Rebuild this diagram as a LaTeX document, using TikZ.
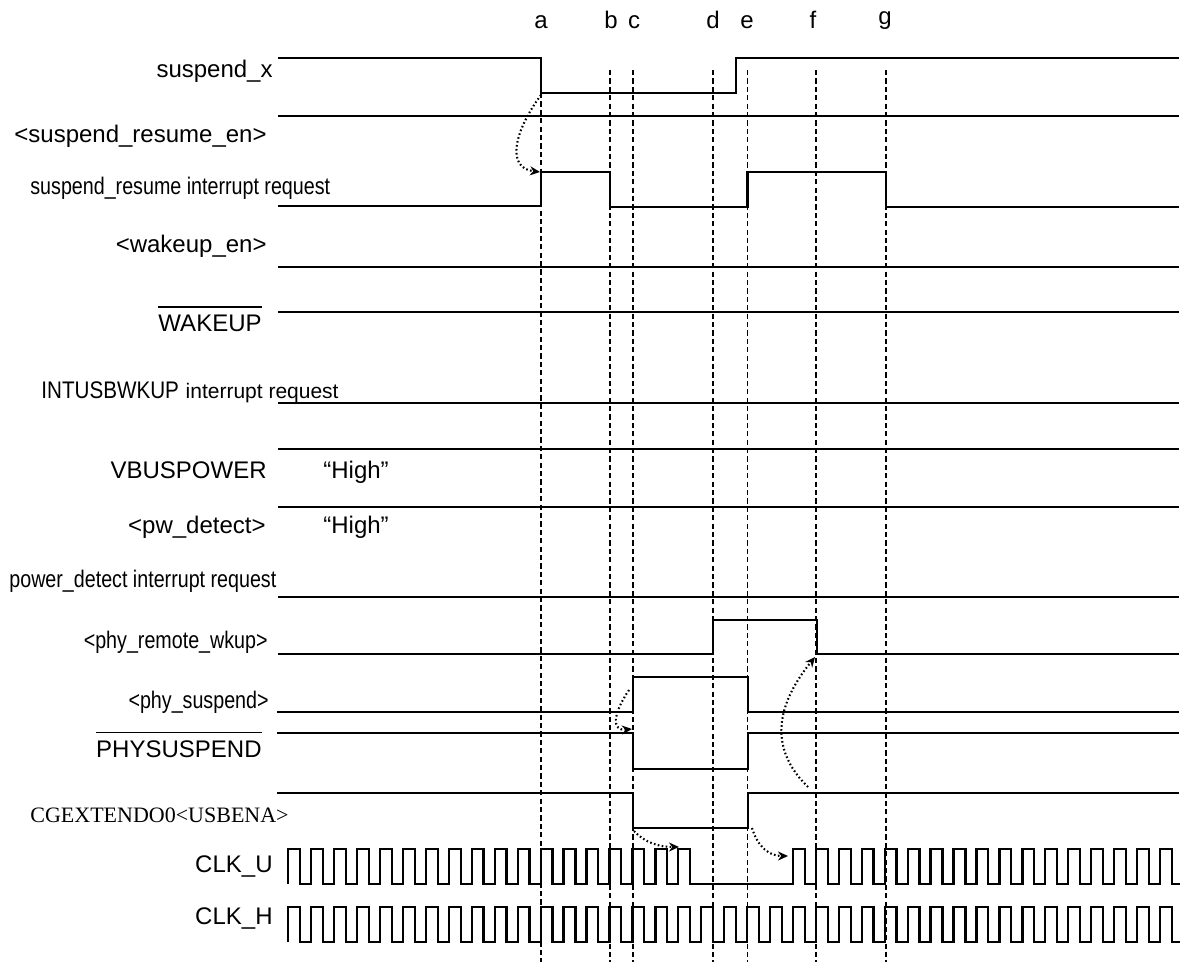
\documentclass[tikz,border=0pt]{standalone}
\usepackage{fontspec}
\setmainfont{Liberation Sans}
\newfontfamily\narrowfont[FakeStretch=0.82]{Liberation Sans}
\newfontfamily\narrowerfont[FakeStretch=0.86]{Liberation Sans}
\newfontfamily\timesfont{Liberation Serif}
\usetikzlibrary{arrows.meta}
\begin{document}
\begin{tikzpicture}[x=0.5pt,y=-0.5pt,
  sig/.style={line width=1.15pt, line join=miter},
  guide/.style={line width=0.85pt, dash pattern=on 2.6pt off 1.6pt},
  cause/.style={line width=1.05pt, dash pattern=on 0.8pt off 1.2pt, -{Stealth[length=5pt,width=4.5pt]}},
  lbl/.style={inner sep=0pt, font=\fontsize{12}{14}\selectfont},
  nlbl/.style={inner sep=0pt, font=\narrowfont\fontsize{12}{14}\selectfont},
  tick/.style={inner sep=0pt, font=\fontsize{12}{14}\selectfont, anchor=base}]
\useasboundingbox (0,0) rectangle (1181,962);

% time markers
\node[tick] (ta) at (541,29) {a};
\node[tick] (tb) at (611,29) {b};
\node[tick] (tc) at (634,29) {c};
\node[tick] (td) at (713,29) {d};
\node[tick] (te) at (747,29) {e};
\node[tick] (tf) at (813,29) {f};
\node[tick] (tg) at (885,25) {g};

% guide lines
\draw[guide] (541,93) -- (541,962);
\foreach \gx in {610,633,713,747.5,816,886}{
  \draw[guide] (\gx,70) -- (\gx,962);
}

% labels
\node[lbl,anchor=base east] (l1) at (273,78) {suspend\_x};
\node[lbl,anchor=base east] (l2) at (267,143) {<suspend\_resume\_en>};
\node[nlbl,anchor=base west] (l3) at (30,195) {suspend\_resume interrupt request};
\node[lbl,anchor=base east] (l4) at (267,253) {<wakeup\_en>};
\node[lbl,anchor=base east] (l5) at (262,331) {WAKEUP};
\draw[line width=0.8pt] ([yshift=3.6pt]l5.north west) -- ([yshift=3.6pt]l5.north east);
\node[lbl,anchor=base west] (l6) at (41,398) {{\narrowerfont INTUSBWKUP} {\fontsize{10.5}{12}\selectfont interrupt request}};
\node[lbl,anchor=base east] (l7) at (267,478) {VBUSPOWER};
\node[lbl,anchor=base west] (h7) at (323,478) {“High”};
\node[lbl,anchor=base east] (l8) at (266,533) {<pw\_detect>};
\node[lbl,anchor=base west] (h8) at (323,533) {“High”};
\node[nlbl,anchor=base west] (l9) at (9,587) {power\_detect interrupt request};
\node[nlbl,anchor=base east] (l10) at (268,648) {<phy\_remote\_wkup>};
\node[nlbl,anchor=base east] (l11) at (269,708) {<phy\_suspend>};
\node[lbl,anchor=base east] (l12) at (262,757) {PHYSUSPEND};
\draw[line width=0.8pt] ([yshift=3.6pt]l12.north west) -- ([yshift=3.6pt]l12.north east);
\node[inner sep=0pt,anchor=base west,font=\timesfont\fontsize{11}{13}\selectfont] (l13) at (30,822) {CGEXTENDO0<USBENA>};
\node[lbl,anchor=base east] (l14) at (273,872) {CLK\_U};
\node[lbl,anchor=base east] (l15) at (273,924) {CLK\_H};

% signals
\draw[sig] (278,58) -- (541,58) -- (541,93) -- (736,93) -- (736,58) -- (1179,58);
\draw[sig] (278,116) -- (1179,116);
\draw[sig] (278,206) -- (541,206) -- (541,172) -- (610,172) -- (610,207) -- (747.5,207) -- (747.5,172) -- (886,172) -- (886,207) -- (1179,207);
\draw[sig] (278,267) -- (1179,267);
\draw[sig] (278,312) -- (1179,312);
\draw[sig] (278,403) -- (1179,403);
\draw[sig] (278,449) -- (1179,449);
\draw[sig] (278,507) -- (1179,507);
\draw[sig] (278,597) -- (1179,597);
\draw[sig] (278,654) -- (713,654) -- (713,620) -- (817,620) -- (817,654) -- (1179,654);
\draw[sig] (277,712) -- (633,712) -- (633,677) -- (748,677) -- (748,712) -- (1179,712);
\draw[sig] (277,733) -- (633,733) -- (633,769) -- (748,769) -- (748,733) -- (1179,733);
\draw[sig] (277,793) -- (633,793) -- (633,828) -- (748,828) -- (748,793) -- (1179,793);

% clocks
\draw[sig] (288.3,884)
  \foreach \k in {0,...,17}{ -- ({288.3+22.94*\k},884) -- ({288.3+22.94*\k},849) -- ({300.1+22.94*\k},849) -- ({300.1+22.94*\k},884) }
  \foreach \k in {22,...,38}{ -- ({288.3+22.94*\k},884) -- ({288.3+22.94*\k},849) -- ({300.1+22.94*\k},849) -- ({300.1+22.94*\k},884) }
  -- (1180,884);
\draw[sig] (288.3,942)
  \foreach \k in {0,...,38}{ -- ({288.3+22.94*\k},942) -- ({288.3+22.94*\k},907) -- ({300.1+22.94*\k},907) -- ({300.1+22.94*\k},942) }
  -- (1180,942);

% causal arrows
\coordinate (a1s) at (541,95);  \coordinate (a1e) at (540,172);
\coordinate (a2s) at (629,690); \coordinate (a2e) at (632,729);
\coordinate (a3s) at (808,787); \coordinate (a3e) at (815,657);
\coordinate (a4s) at (634,831); \coordinate (a4e) at (679,847);
\coordinate (a5s) at (752,828); \coordinate (a5e) at (788,856);
\draw[cause] (a1s) .. controls (515,130) and (505,168) .. (a1e);
\draw[cause] (a2s) .. controls (612,715) and (612,731) .. (a2e);
\draw[cause] (a3s) .. controls (772,752) and (772,710) .. (a3e);
\draw[cause] (a4s) .. controls (645,843) and (660,847) .. (a4e);
\draw[cause] (a5s) .. controls (758,848) and (770,856) .. (a5e);
\end{tikzpicture}
\end{document}
